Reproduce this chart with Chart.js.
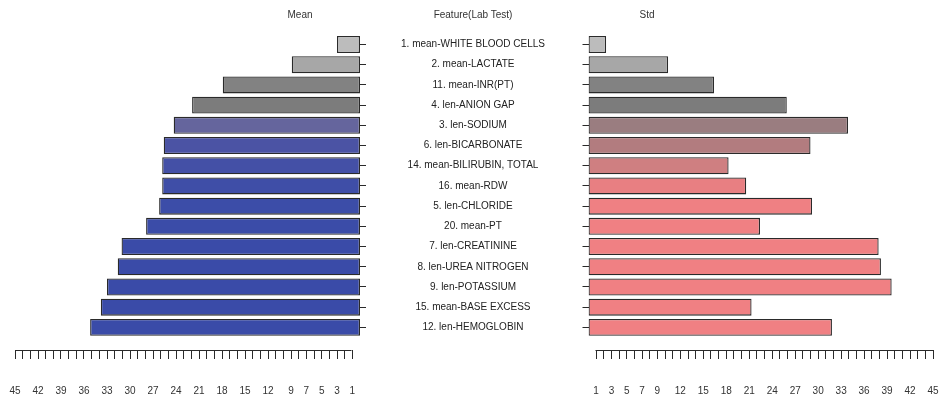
<!DOCTYPE html>
<html>
<head>
<meta charset="utf-8">
<script src="https://cdn.jsdelivr.net/npm/chart.js@4/dist/chart.umd.min.js"></script>
<style>
  body { margin: 0; background: #fff; }
  #wrap { position: relative; width: 943px; height: 401px; font-family: "Liberation Sans", Arial, sans-serif; }
  .box { position: absolute; top: 0; }
  .ttl { position: absolute; top: 9px; font-size: 10px; color: #333; transform: translateX(-50%); white-space: nowrap; }
</style>
</head>
<body>
<div id="wrap">
  <div class="box" style="left:0"><canvas id="mean" width="580" height="401"></canvas></div>
  <div class="box" style="left:580px"><canvas id="std" width="363" height="401"></canvas></div>
  <div class="ttl" style="left:300px">Mean</div>
  <div class="ttl" style="left:473px">Feature(Lab Test)</div>
  <div class="ttl" style="left:647px">Std</div>
</div>
<script>
const features = [
  "1. mean-WHITE BLOOD CELLS",
  "2. mean-LACTATE",
  "11. mean-INR(PT)",
  "4. len-ANION GAP",
  "3. len-SODIUM",
  "6. len-BICARBONATE",
  "14. mean-BILIRUBIN, TOTAL",
  "16. mean-RDW",
  "5. len-CHLORIDE",
  "20. mean-PT",
  "7. len-CREATININE",
  "8. len-UREA NITROGEN",
  "9. len-POTASSIUM",
  "15. mean-BASE EXCESS",
  "12. len-HEMOGLOBIN"
];
const meanVals = [3.0, 8.9, 17.9, 21.9, 24.3, 25.6, 25.8, 25.8, 26.2, 27.9, 31.1, 31.6, 33.0, 33.8, 35.2];
const stdVals = [2.3, 10.4, 16.4, 25.9, 33.9, 29.0, 18.3, 20.6, 29.2, 22.4, 37.9, 38.2, 39.6, 21.3, 31.8];
const meanColors = ["#bcbcbc", "#a7a7a7", "#828282", "#7c7c7c", "#65659d", "#4b53a4", "#4450a6", "#3f4ea7",
  "#3c4da8", "#3b4ca8", "#3a4ba8", "#3a4ba8", "#3a4ba8", "#3a4ba8", "#3a4ba8"];
const stdColors = ["#bcbcbc", "#a7a7a7", "#828282", "#7c7c7c", "#9a7d80", "#b27c7f", "#cf7f81", "#e87f82",
  "#ef8083", "#f08083", "#f08083", "#f08083", "#f08083", "#f08083", "#f08083"];
const axisTicks = [];
for (let i = 1; i <= 45; i++) axisTicks.push(i);
const meanTickLabels = [45, 42, 39, 36, 33, 30, 27, 24, 21, 18, 15, 12, 9, 7, 5, 3, 1];
const stdTickLabels = [1, 3, 5, 7, 9, 12, 15, 18, 21, 24, 27, 30, 33, 36, 39, 42, 45];

const FONT = "Liberation Sans";
const ink = "#2a2a2a";
Chart.defaults.font.family = FONT;
Chart.defaults.font.size = 10;
Chart.defaults.color = "#333";

// centre the feature names in the gap
const mctx = document.createElement("canvas").getContext("2d");
mctx.font = "10px '" + FONT + "'";
let widest = 0;
features.forEach(f => { widest = Math.max(widest, mctx.measureText(f).width); });
const labelPad = 473 - 360 - 6 - widest / 2;

function points(vals) {
  return vals.map((v, i) => ({ x: v, y: i }));
}

// keep label overflow from shrinking the plot area
function noPad(s) {
  s.paddingLeft = 0; s.paddingRight = 0; s.paddingTop = 0; s.paddingBottom = 0;
}

// axis line only from the first to the last tick, like R's axis()
const tickLine = {
  id: "tickLine",
  afterDraw(chart) {
    const sx = chart.scales.x;
    const a = sx.getPixelForValue(axisTicks[0]);
    const b = sx.getPixelForValue(axisTicks[axisTicks.length - 1]);
    const ctx = chart.ctx;
    ctx.save();
    ctx.strokeStyle = ink;
    ctx.lineWidth = 1;
    ctx.beginPath();
    ctx.moveTo(Math.round(a) - 0.5, Math.round(sx.top) + 0.5);
    ctx.lineTo(Math.round(b) + 0.5, Math.round(sx.top) + 0.5);
    ctx.stroke();
    ctx.restore();
  }
};

function xScale(reverse, labels) {
  return {
    type: "linear",
    reverse: reverse,
    min: 0,
    max: 45,
    afterBuildTicks: s => { s.ticks = axisTicks.map(v => ({ value: v })); },
    afterFit: s => { s.height = 51; noPad(s); },
    ticks: {
      autoSkip: false,
      maxRotation: 0,
      padding: 26,
      callback: v => labels.includes(v) ? String(v) : ""
    },
    grid: { drawOnChartArea: false, drawTicks: true, tickLength: 9, color: ink, lineWidth: 1 },
    border: { display: false }
  };
}

function yBase(width) {
  return {
    type: "linear",
    reverse: true,
    offset: false,
    min: -0.5,
    max: 15.12,
    afterBuildTicks: s => { s.ticks = features.map((f, i) => ({ value: i })); },
    afterFit: s => { s.width = width; noPad(s); },
    grid: { offset: false, drawOnChartArea: false, drawTicks: true, tickLength: 6, color: ink, lineWidth: 1 },
    border: { display: false }
  };
}

const barStyle = {
  borderColor: ink,
  borderWidth: 1.3,
  borderSkipped: false,
  barPercentage: 0.84,
  categoryPercentage: 1
};

const meanY = yBase(220);
meanY.position = "right";
meanY.ticks = { autoSkip: false, crossAlign: "center", padding: labelPad, color: "#222", callback: v => features[v] };

new Chart(document.getElementById("mean"), {
  type: "bar",
  data: {
    datasets: [Object.assign({ label: "Mean", data: points(meanVals), backgroundColor: meanColors }, barStyle)]
  },
  options: {
    responsive: false,
    animation: false,
    indexAxis: "y",
    layout: { padding: { left: 15, top: 34.4, right: 0, bottom: 0 } },
    plugins: { legend: { display: false }, tooltip: { enabled: false } },
    scales: { x: xScale(true, meanTickLabels), y: meanY }
  },
  plugins: [tickLine]
});

const stdY = yBase(6);
stdY.position = "left";
stdY.ticks = { display: false };

new Chart(document.getElementById("std"), {
  type: "bar",
  data: {
    datasets: [Object.assign({ label: "Std", data: points(stdVals), backgroundColor: stdColors }, barStyle)]
  },
  options: {
    responsive: false,
    animation: false,
    indexAxis: "y",
    layout: { padding: { left: 2.5, top: 34.4, right: 10, bottom: 0 } },
    plugins: { legend: { display: false }, tooltip: { enabled: false } },
    scales: { x: xScale(false, stdTickLabels), y: stdY }
  },
  plugins: [tickLine]
});
</script>
</body>
</html>
